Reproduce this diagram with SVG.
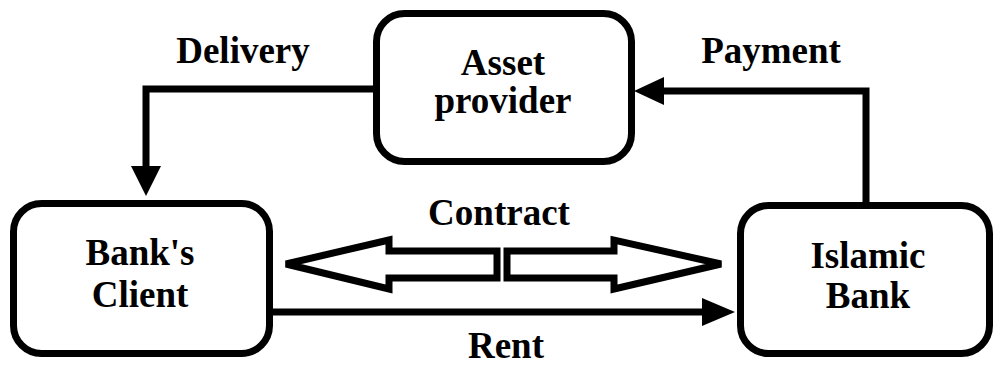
<svg xmlns="http://www.w3.org/2000/svg" width="995" height="367" viewBox="0 0 995 367">
<style>
.box{fill:#fff;stroke:#000;stroke-width:7}
.t{font-family:"Liberation Serif","Times New Roman",serif;font-weight:bold;font-size:37px;fill:#000;text-anchor:middle}
.line{fill:none;stroke:#000;stroke-width:7}
.head{fill:#000;stroke:none}
.hollow{fill:#fff;stroke:#000;stroke-width:7;stroke-linejoin:miter}
</style>
<rect width="995" height="367" fill="#fff"/>
<g id="connectors">
<path class="line" d="M376,89 H146 V168"/>
<polygon class="head" points="131,166 161,166 146,196"/>
<path class="line" d="M866,205 V91 H662"/>
<polygon class="head" points="664,77 664,105 634,91"/>
<path class="line" d="M272,312 H706"/>
<polygon class="head" points="702,298 702,326 735,312"/>
<polygon class="hollow" points="286,264 389,240 389,251 497,251 497,278 389,278 389,289"/>
<polygon class="hollow" points="507,251 614,251 614,240 721,264 614,289 614,278 507,278"/>
<text class="t" x="243" y="63">Delivery</text>
<text class="t" x="771" y="63">Payment</text>
<text class="t" x="499" y="225">Contract</text>
<text class="t" x="506" y="358">Rent</text>
</g>
<g id="asset-provider">
<rect class="box" x="376.5" y="13.5" width="255" height="148" rx="28"/>
<text class="t" x="503" y="75">Asset</text>
<text class="t" x="503" y="113">provider</text>
</g>
<g id="banks-client">
<rect class="box" x="13.5" y="203.5" width="256" height="150" rx="28"/>
<text class="t" x="140" y="265">Bank's</text>
<text class="t" x="140" y="307">Client</text>
</g>
<g id="islamic-bank">
<rect class="box" x="740.5" y="205.5" width="249" height="148" rx="28"/>
<text class="t" x="868" y="268">Islamic</text>
<text class="t" x="868" y="308">Bank</text>
</g>
</svg>
